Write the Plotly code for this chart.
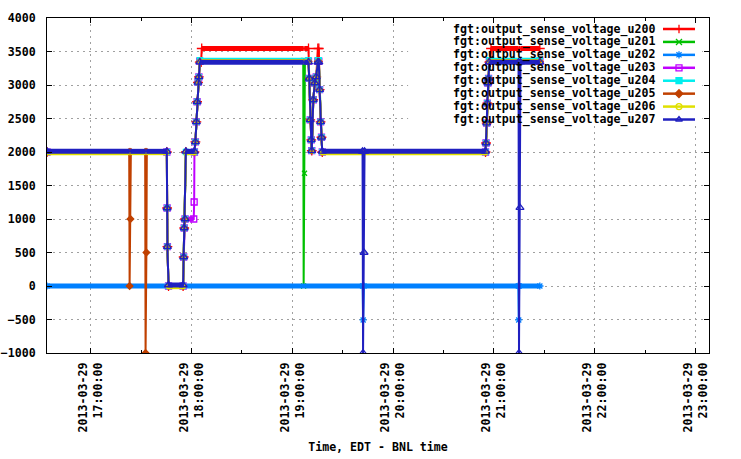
import plotly.graph_objects as go

DAY = "2013-03-29 "

# ---- data ----
# Shared time grid of the channels that move together (u200, u201, u203..u207)
T_BUNDLE = ["16:34:00", "17:22:55", "17:23:10", "17:23:40", "17:23:55",
            "17:32:25", "17:32:40", "17:33:10", "17:33:25",
            "17:45:20", "17:45:30", "17:45:40", "17:46:20",
            "17:55:00", "17:55:20", "17:55:40", "17:56:10", "17:56:40",
            "18:01:20", "18:01:35", "18:01:45",
            "18:02:20", "18:02:54", "18:03:20", "18:03:52", "18:04:24", "18:04:56",
            "18:05:45", "18:06:05",
            "19:06:30", "19:06:45", "19:07:15", "19:07:30",
            "19:09:38", "19:10:04", "19:10:40", "19:11:17", "19:11:35",
            "19:12:29", "19:13:22", "19:14:15", "19:15:11", "19:15:47",
            "19:16:16", "19:16:50", "19:17:22", "19:17:50",
            "19:41:48", "19:42:06", "19:42:42", "19:43:00",
            "20:55:00", "20:55:18", "20:55:42", "20:56:04", "20:56:22", "20:56:48", "20:57:16",
            "20:57:50", "20:58:15",
            "21:14:38", "21:14:55", "21:15:30", "21:15:48",
            "21:27:20"]

V_U200 = [2000, 2000, 2000, 2000, 2000,
          2000, 2000, 2000, 2000,
          2000, 1164, 587, 0,
          0, 433, 866, 1000, 2000,
          2000, 2000, 2000,
          2150, 2450, 2750, 3040, 3120, 3340,
          3340, 3545,
          3545, 3545, 3545, 3545,
          3545, 3100, 2480, 2180, 2020,
          2780, 3030, 3120, 3545, 3545,
          2930, 2450, 2220, 2000,
          2000, 2000, 2000, 2000,
          2000, 2134, 2430, 2730, 3030, 3100, 3340,
          3340, 3545,
          3545, 3545, 3545, 3545,
          3545]

V_U201 = [2000, 2000, 2000, 2000, 2000,
          2000, 2000, 2000, 2000,
          2000, 1164, 587, 0,
          0, 433, 866, 1000, 2000,
          2000, 2000, 2000,
          2150, 2450, 2750, 3040, 3120, 3365,
          3365, 3365,
          3365, 0, 1683, 3365,
          3365, 3100, 2480, 2180, 2020,
          2780, 3030, 3120, 3365, 3365,
          2930, 2450, 2220, 2000,
          2000, 2000, 2000, 2000,
          2000, 2134, 2430, 2730, 3030, 3100, 3365,
          3365, 3365,
          3365, 3365, 3365, 3365,
          3365]

T_U202 = ["16:34:00", "19:41:50", "19:42:10", "19:42:40",
          "21:14:30", "21:14:45", "21:15:00", "21:27:20"]
V_U202 = [0, 0, -507, 0,
          0, -507, 0, 0]

V_U203 = [2000, 2000, 2000, 2000, 2000,
          2000, 2000, 2000, 2000,
          2000, 1164, 587, 0,
          0, 433, 866, 1000, 1000,
          1000, 1254, 2000,
          2150, 2450, 2750, 3040, 3120, 3355,
          3355, 3355,
          3355, 3355, 3355, 3355,
          3355, 3100, 2480, 2180, 2020,
          2780, 3030, 3120, 3355, 3355,
          2930, 2450, 2220, 2000,
          2000, 2000, 2000, 2000,
          2000, 2134, 2430, 2730, 3030, 3100, 3355,
          3355, 3355,
          3355, 3355, 3355, 3355,
          3355]

V_U204 = [2000, 2000, 2000, 2000, 2000,
          2000, 2000, 2000, 2000,
          2000, 1164, 587, 0,
          0, 433, 866, 1000, 2000,
          2000, 2000, 2000,
          2150, 2450, 2750, 3040, 3120, 3370,
          3370, 3370,
          3370, 3370, 3370, 3370,
          3370, 3100, 2480, 2180, 2020,
          2780, 3030, 3120, 3370, 3370,
          2930, 2450, 2220, 2000,
          2000, 2000, 2000, 2000,
          2000, 2134, 2430, 2730, 3030, 3100, 3370,
          3370, 3370,
          3370, 3370, 3370, 3370,
          3370]

V_U205 = [2000, 2000, 0, 1000, 2000,
          2000, -1000, 500, 2000,
          2000, 1164, 587, 0,
          0, 433, 866, 1000, 2000,
          2000, 2000, 2000,
          2150, 2450, 2750, 3040, 3120, 3350,
          3350, 3350,
          3350, 3350, 3350, 3350,
          3350, 3100, 2480, 2180, 2020,
          2780, 3030, 3120, 3350, 3350,
          2930, 2450, 2220, 2000,
          2000, 2000, 2000, 2000,
          2000, 2134, 2430, 2730, 3030, 3100, 3350,
          3350, 3350,
          3350, 3350, 3350, 3350,
          3350]

V_U206 = [1990, 1990, 1990, 1990, 1990,
          1990, 1990, 1990, 1990,
          1990, 1164, 587, -10,
          -10, 433, 866, 1000, 1990,
          1990, 1990, 1990,
          2150, 2450, 2750, 3040, 3120, 3350,
          3350, 3350,
          3350, 3350, 3350, 3350,
          3350, 3100, 2480, 2180, 2020,
          2780, 3030, 3120, 3350, 3350,
          2930, 2450, 2220, 1990,
          1990, 1990, 1990, 1990,
          1990, 2134, 2430, 2730, 3030, 3100, 3350,
          3350, 3350,
          3350, 3350, 3350, 3350,
          3350]

V_U207 = [2010, 2010, 2010, 2010, 2010,
          2010, 2010, 2010, 2010,
          2010, 1164, 587, 15,
          15, 433, 866, 1000, 2010,
          2010, 2010, 2010,
          2150, 2450, 2750, 3040, 3120, 3340,
          3340, 3340,
          3340, 3340, 3340, 3340,
          3340, 3100, 2480, 2180, 2020,
          2780, 3030, 3120, 3340, 3340,
          2930, 2450, 2220, 2010,
          2010, -1000, 500, 2010,
          2010, 2134, 2430, 2730, 3030, 3100, 3340,
          3340, 3340,
          3340, -1000, 1170, 3340,
          3340]

NAMES = ["fgt:output_sense_voltage_u200", "fgt:output_sense_voltage_u201",
         "fgt:output_sense_voltage_u202", "fgt:output_sense_voltage_u203",
         "fgt:output_sense_voltage_u204", "fgt:output_sense_voltage_u205",
         "fgt:output_sense_voltage_u206", "fgt:output_sense_voltage_u207"]
TIMES = [T_BUNDLE, T_BUNDLE, T_U202, T_BUNDLE, T_BUNDLE, T_BUNDLE, T_BUNDLE, T_BUNDLE]
VALUES = [V_U200, V_U201, V_U202, V_U203, V_U204, V_U205, V_U206, V_U207]

# ---- styling ----
COLORS = ["#ff0000", "#00c000", "#0080ff", "#c000ff", "#00eeee", "#c04000", "#e0e000", "#2020c0"]
SYMBOLS = ["cross-thin-open", "x-thin-open", "asterisk-open", "square-open",
           "square", "diamond", "circle-open", "triangle-up-open"]
MSIZE = [7, 5, 6, 6, 5, 5, 4, 7]
FONT = dict(family="DejaVu Sans Mono", size=11.6, color="black", weight="bold")
GRID = "#a0a0a0"

fig = go.Figure()

for name, t, v, col, sym, ms in zip(NAMES, TIMES, VALUES, COLORS, SYMBOLS, MSIZE):
    x = [DAY + s for s in t]
    # dense sampling on flat stretches -> thick band
    bx, by = [], []
    for i in range(len(v) - 1):
        if v[i] == v[i + 1]:
            bx += [x[i], x[i + 1], None]
            by += [v[i], v[i + 1], None]
    fig.add_trace(go.Scatter(x=bx, y=by, mode="lines", line=dict(color=col, width=5),
                             showlegend=False, hoverinfo="skip"))
    fig.add_trace(go.Scatter(x=x, y=v, mode="lines", line=dict(color=col, width=2),
                             showlegend=False, name=name))
    n = len(v)
    keep = [i for i in range(n) if not (0 < i < n - 1 and v[i - 1] == v[i] == v[i + 1])]
    fig.add_trace(go.Scatter(x=[x[i] for i in keep], y=[v[i] for i in keep], mode="markers",
                             marker=dict(symbol=sym, size=ms, color=col,
                                         line=dict(color=col, width=1.3)),
                             showlegend=False, hoverinfo="skip"))

# ---- key (gnuplot style: text right-aligned, sample to the right) ----
ROW0, ROWSTEP = 11.0, 12.93
for i, (name, col, sym, ms) in enumerate(zip(NAMES, COLORS, SYMBOLS, MSIZE)):
    yy = ROW0 + ROWSTEP * i
    fig.add_trace(go.Scatter(x=[616, 648], y=[yy, yy], mode="lines", xaxis="x2", yaxis="y2",
                             line=dict(color=col, width=2.5), showlegend=False, hoverinfo="skip"))
    fig.add_trace(go.Scatter(x=[632], y=[yy], mode="markers", xaxis="x2", yaxis="y2",
                             marker=dict(symbol=sym, size=6, color=col, line=dict(color=col, width=1.3)),
                             showlegend=False, hoverinfo="skip"))
    fig.add_annotation(x=609, y=yy, xref="x2", yref="y2", text=name, showarrow=False,
                       xanchor="right", yanchor="middle", font=FONT, borderpad=0)

# opaque key background (above the grid, below the data)
fig.add_shape(type="rect", xref="x", yref="y",
              x0=DAY + "20:08:55", x1=DAY + "23:03:55", y0=2400, y1=4000,
              fillcolor="white", line=dict(width=0), layer="between")

fig.update_layout(
    width=741, height=459, autosize=False,
    margin=dict(l=47, r=32, t=18, b=106, pad=0),
    paper_bgcolor="white", plot_bgcolor="white",
    showlegend=False,
    font=FONT,
    xaxis=dict(type="date", range=[DAY + "16:34:00", DAY + "23:08:00"],
               tick0=DAY + "17:00:00", dtick=3600000,
               tickformat="%Y-%m-%d<br>%H:%M:%S", tickangle=-90,
               ticks="inside", ticklen=5, tickcolor="black",
               minor=dict(dtick=1800000, ticks="inside", ticklen=3, tickcolor="black", showgrid=False),
               showgrid=True, gridcolor=GRID, griddash="2px,4px", gridwidth=1,
               showline=True, linecolor="black", linewidth=1, mirror="allticks",
               zeroline=False, tickfont=FONT, automargin=False, ticklabelstandoff=4,
               title=dict(text="Time, EDT - BNL time", font=FONT, standoff=11)),
    yaxis=dict(range=[-1000, 4000], tick0=0, dtick=500,
               ticks="inside", ticklen=5, tickcolor="black",
               showgrid=True, gridcolor=GRID, griddash="2px,4px", gridwidth=1,
               showline=True, linecolor="black", linewidth=1, mirror="allticks",
               zeroline=False, tickfont=FONT, ticklabelstandoff=8, automargin=False),
    xaxis2=dict(overlaying="x", anchor="y2", range=[0, 662], visible=False),
    yaxis2=dict(overlaying="y", anchor="x2", range=[335, 0], visible=False),
)

# remove the default 8px page margin so the 741x459 figure fills the window exactly
fig.write_html("out.html", config={"displayModeBar": False},
               post_script="document.body.style.margin='0';")
